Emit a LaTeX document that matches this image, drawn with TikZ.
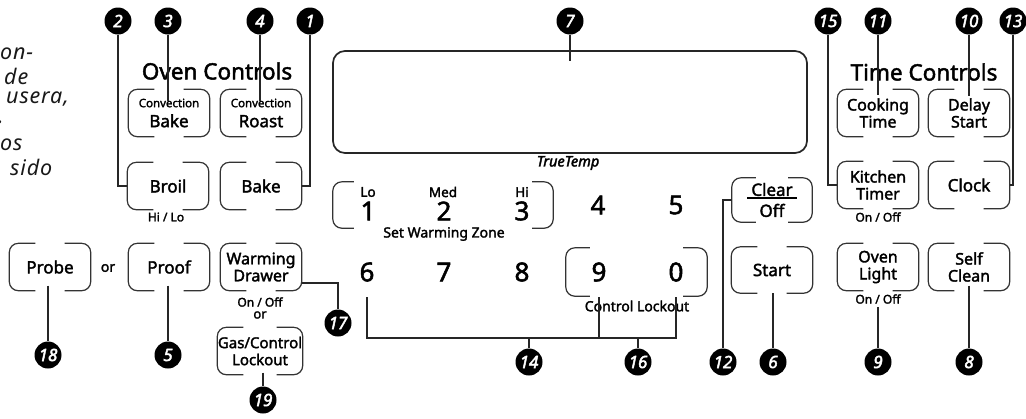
\documentclass[tikz,border=0pt]{standalone}
\usepackage{fontspec}
\setmainfont{Noto Sans}[RawFeature={embolden=2}]
\newfontfamily\fragfont{Noto Sans}[LetterSpace=4]
\newfontfamily\bifont{Noto Sans}[RawFeature={embolden=2.5}]
\usetikzlibrary{calc}
\newcommand\fs[2]{\fontsize{#1}{#2}\selectfont}
\newcommand\brk[2][26pt]{%
  \draw[btnline] ([xshift=#1]#2.north west) -- (#2.north west) -- (#2.south west) -- ([xshift=#1]#2.south west);
  \draw[btnline] ([xshift=-#1]#2.north east) -- (#2.north east) -- (#2.south east) -- ([xshift=-#1]#2.south east);}
\tikzset{
  btnline/.style={line width=1.2pt, draw=black!80, rounded corners=9pt},
  conn/.style={line width=1.3pt, draw=black!85},
  btn/.style={minimum width=81pt, minimum height=47pt, inner sep=0pt, align=center, font=\fs{17}{18}},
  btntwo/.style={btn, font=\fs{16}{17}},
  badge/.style={circle, fill=black, minimum size=27pt, inner sep=0pt, text=white, font=\bifont\itshape\fs{17}{17}},
  hdr/.style={font=\fs{22.5}{22}, inner sep=0pt},
  small/.style={font=\fs{12}{12}, inner sep=0pt},
  digit/.style={font=\fs{26}{26}, inner sep=0pt},
  lbl/.style={font=\fs{14}{14}, inner sep=0pt},
  frag/.style={font=\fragfont\itshape\fs{21.5}{20}, anchor=west, inner sep=0pt, text=black!90},
}
\begin{document}
\begin{tikzpicture}[x=1pt,y=-1pt]
\path[use as bounding box] (0,0) rectangle (1026,418);

% left text fragments
\node[frag] (f1) at (0,54) {on-};
\node[frag] (f2) at (4,76) {de};
\node[frag] (f3) at (6,99) {usera,};
\node[frag] (f4) at (-2,122) {.};
\node[frag] (f5) at (0,145) {os};
\node[frag] (f6) at (10,167) {sido};

% oven controls
\node[hdr] (ovh) at (217,71) {Oven Controls};
\node[btn] (cbake) at (169,113) {{\fs{11.5}{12}Convection}\\[2pt]Bake};
\node[btn] (croast) at (261,113) {{\fs{11.5}{12}Convection}\\[2pt]Roast};
\node[btn] (broil) at (168,186) {Broil};
\node[btn] (bakeb) at (261,186) {Bake};
\node[small] (hilo) at (166,217) {Hi / Lo};
\node[btn] (probe) at (50,267) {Probe};
\node[lbl] (or1) at (108,268) {or};
\node[btn] (proof) at (169,267) {Proof};
\node[btntwo] (wd) at (261,267) {Warming\\Drawer};
\node[small] (onoff1) at (260,302) {On / Off};
\node[small, font=\fs{13}{13}] (or2) at (260,315) {or};
\node[btn, minimum width=85pt, font=\fs{15}{17}] (gas) at (260,351) {Gas/Control\\Lockout};
\foreach \n in {cbake,croast,broil,bakeb,probe,proof,wd,gas} {\brk{\n}}

% display
\node[draw=black!85, line width=1.7pt, rounded corners=12pt, minimum width=474pt, minimum height=102pt] (disp) at (570,102) {};
\node[font=\bifont\itshape\fs{14.5}{14}, inner sep=0pt] (tt) at (568,163) {TrueTemp};

% number pad
\node[minimum width=220pt, minimum height=46pt, inner sep=0pt] (g123) at (443,205) {};
\brk[21pt]{g123}
\node[lbl, font=\fs{13.5}{13}] (lo) at (368,192) {Lo};
\node[lbl, font=\fs{13.5}{13}] (med) at (443,192) {Med};
\node[lbl, font=\fs{13.5}{13}] (hi) at (522,192) {Hi};
\node[digit] (d1) at (368,211) {1};
\node[digit] (d2) at (444,211) {2};
\node[digit] (d3) at (522,211) {3};
\node[lbl] (swz) at (444,234) {Set Warming Zone};
\node[digit] (d4) at (598,205) {4};
\node[digit] (d5) at (676,205) {5};
\node[digit] (d6) at (367,272) {6};
\node[digit] (d7) at (444,272) {7};
\node[digit] (d8) at (522,272) {8};
\node[digit] (d9) at (599,272) {9};
\node[digit] (d0) at (676,272) {0};
\node[minimum width=141pt, minimum height=48pt, inner sep=0pt] (g90) at (636.5,272) {};
\brk[24pt]{g90}
\node[lbl] (cl) at (637,306) {Control Lockout};

% clear / start
\node[btn, minimum width=80pt, minimum height=44pt, font=\fs{17}{21}] (clear) at (772,200) {Clear\\Off};
\draw[line width=1.2pt] ([xshift=-25pt,yshift=2pt]clear.center) -- ([xshift=25pt,yshift=2pt]clear.center);
\node[btn, minimum height=46pt] (start) at (772,270) {Start};
\brk[24pt]{clear}
\brk{start}

% time controls
\node[hdr] (tch) at (924,72) {Time Controls};
\node[btntwo] (cook) at (878,113) {Cooking\\Time};
\node[btntwo] (delay) at (969,113) {Delay\\Start};
\node[btntwo] (kitchen) at (878,185) {Kitchen\\Timer};
\node[btn] (clock) at (969,185) {Clock};
\node[small] (onoff2) at (878,217) {On / Off};
\node[btntwo] (light) at (878,267) {Oven\\Light};
\node[small] (onoff3) at (878,299) {On / Off};
\node[btntwo] (self) at (969,267) {Self\\Clean};
\foreach \n in {cook,delay,kitchen,clock,light,self} {\brk{\n}}

% badges
\node[badge] (c2) at (118,21) {2};
\node[badge] (c3) at (168,21) {3};
\node[badge] (c4) at (260,21) {4};
\node[badge] (c1) at (310,21) {1};
\node[badge] (c7) at (570,21) {7};
\node[badge] (c15) at (828,21) {15};
\node[badge] (c11) at (878,21) {11};
\node[badge] (c10) at (969,21) {10};
\node[badge] (c13) at (1013,21) {13};
\node[badge] (c18) at (48,355) {18};
\node[badge] (c5) at (168,355) {5};
\node[badge] (c17) at (338,323) {17};
\node[badge] (c19) at (263,400) {19};
\node[badge] (c14) at (529,362) {14};
\node[badge] (c16) at (638,362) {16};
\node[badge] (c12) at (723,362) {12};
\node[badge] (c6) at (773,362) {6};
\node[badge] (c9) at (878,362) {9};
\node[badge] (c8) at (969,362) {8};

% connectors
\draw[conn] (c2.south) |- (broil.west);
\draw[conn] (c1.south) |- (bakeb.east);
\draw[conn] (c3.south) -- ($(c3 |- cbake.north)+(0,12)$);
\draw[conn] (c4.south) -- ($(c4 |- croast.north)+(0,12)$);
\draw[conn] (c7.south) -- ($(c7 |- disp.north)+(0,11)$);
\draw[conn] (c11.south) -- ($(c11 |- cook.north)+(0,6)$);
\draw[conn] (c10.south) -- ($(c10 |- delay.north)+(0,7)$);
\draw[conn] (c15.south) |- (kitchen.west);
\draw[conn] (c13.south) |- (clock.east);
\draw[conn] (c12.north) |- (clear.west);
\draw[conn] (c6 |- start.south) -- (c6.north);
\draw[conn] ($(c9 |- onoff3.south)+(0,3)$) -- (c9.north);
\draw[conn] ($(c8 |- self.south)+(0,-5)$) -- (c8.north);
\draw[conn] ($(c18 |- probe.south)+(0,-5)$) -- (c18.north);
\draw[conn] ($(c5 |- proof.south)+(0,-5)$) -- (c5.north);
\draw[conn] ($(c19 |- gas.south)+(0,-2)$) -- (c19.north);
\draw[conn] ([yshift=-16pt]wd.east) -| (c17.north);
\coordinate (t6) at (367,297);
\coordinate (t9) at (599,297);
\coordinate (t0) at (676,297);
\coordinate (bl) at (367,338);
\coordinate (br) at (676,338);
\draw[conn] (t6) -- (bl) -- (br) -- (t0);
\draw[conn] (t9) -- (t9 |- bl);
\draw[conn] (c14.north) -- (c14 |- bl);
\draw[conn] (c16.north) -- (c16 |- bl);
\end{tikzpicture}
\end{document}
